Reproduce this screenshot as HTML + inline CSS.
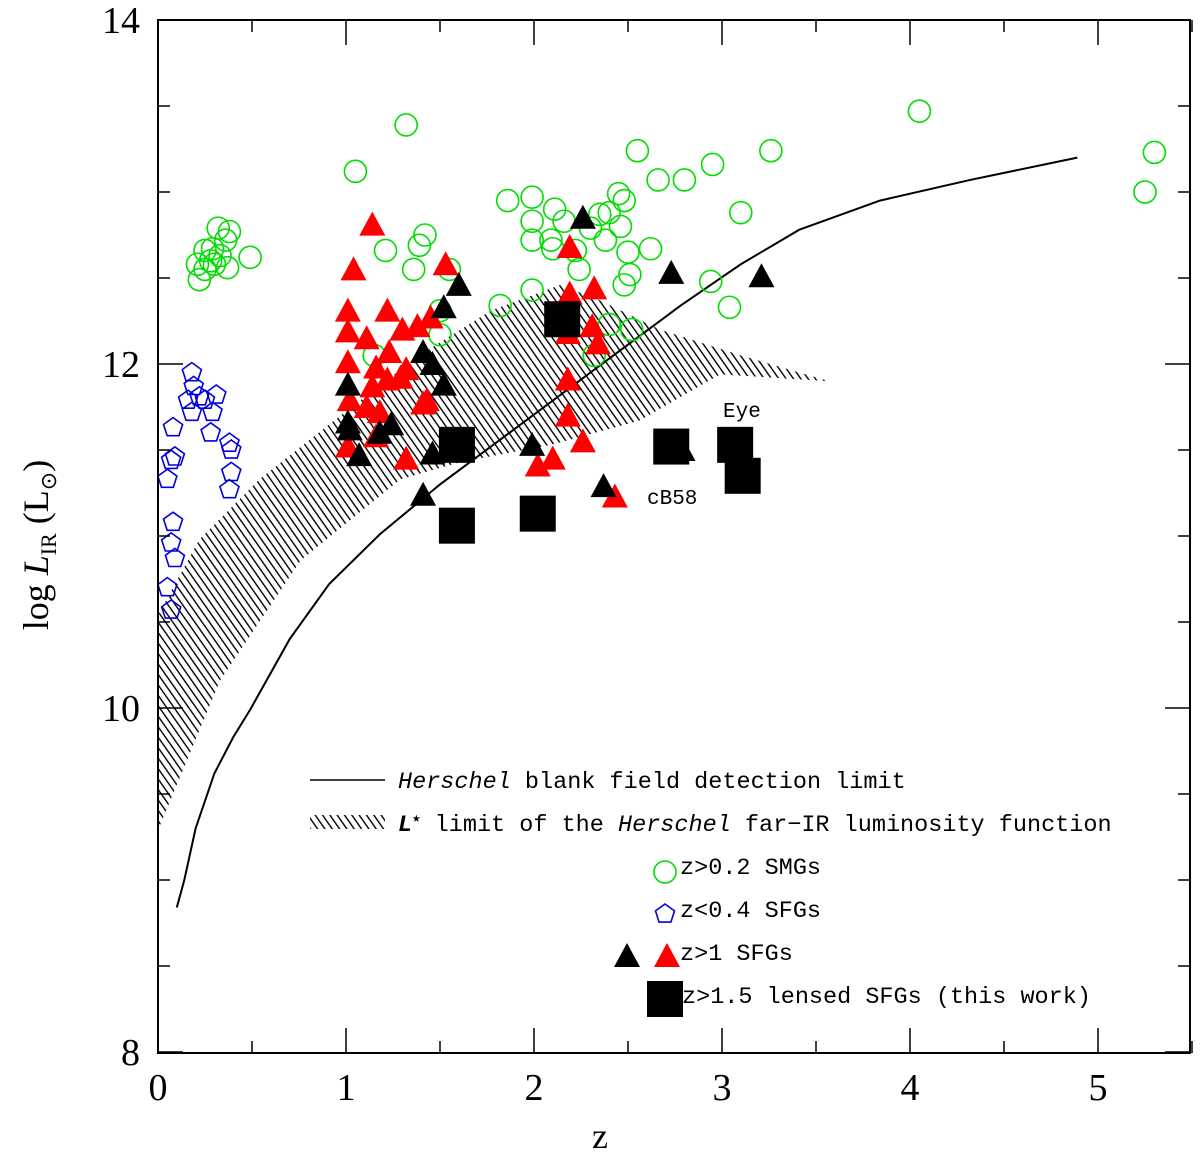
<!DOCTYPE html>
<html><head><meta charset="utf-8"><style>
body{margin:0;background:#fff}
svg{display:block;font-family:"Liberation Serif",serif}
.mono{font-family:"Liberation Mono",monospace}
</style></head><body>
<svg id="chart" width="1200" height="1158" viewBox="0 0 1200 1158" xmlns="http://www.w3.org/2000/svg">
<defs>
<pattern id="hatch" patternUnits="userSpaceOnUse" width="6" height="6" patternTransform="rotate(-35)">
<line x1="0" y1="0" x2="0" y2="6" stroke="#000" stroke-width="2.8"/>
</pattern>
<clipPath id="plotclip"><rect x="158" y="20" width="1032" height="1033"/></clipPath>
</defs>
<g id="marks" clip-path="url(#plotclip)"></g>
<g id="axes"></g>
<g id="legend"></g>
</svg>
<script>
const zTicks=[0,1,2,3,4,5];
const lTicks=[8,10,12,14];
const smgZ=[.22,.25,.28,.30,.33,.36,.38,.29,.25,.21,.49,.32,.37,1.05,1.32,1.21,1.36,1.42,1.39,1.55,1.50,1.50,1.15,1.82,1.86,1.99,1.99,1.99,1.99,2.09,2.11,2.10,2.16,2.22,2.24,2.30,2.35,2.38,2.40,2.45,2.46,2.48,2.51,2.48,2.50,2.52,2.62,2.55,2.66,2.80,2.95,3.10,3.26,2.94,3.04,4.05,5.25,5.30,2.32,2.40];
const smgL=[12.49,12.55,12.60,12.58,12.63,12.72,12.77,12.67,12.66,12.58,12.62,12.79,12.56,13.12,13.39,12.66,12.55,12.75,12.69,12.55,12.31,12.17,12.05,12.34,12.95,12.97,12.83,12.72,12.43,12.72,12.90,12.67,12.83,12.66,12.55,12.79,12.87,12.72,12.88,12.99,12.80,12.95,12.52,12.46,12.65,12.20,12.67,13.24,13.07,13.07,13.16,12.88,13.24,12.48,12.33,13.47,13.00,13.23,12.05,12.23];
const sfgZ=[.18,.19,.22,.31,.16,.25,.18,.29,.08,.28,.38,.39,.09,.07,.39,.05,.38,.08,.07,.09,.05,.07];
const sfgL=[11.95,11.87,11.81,11.82,11.79,11.79,11.72,11.72,11.63,11.60,11.54,11.50,11.46,11.44,11.37,11.33,11.27,11.08,10.96,10.87,10.70,10.57];
const redZ=[1.14,1.04,1.53,1.01,1.22,1.01,1.11,1.45,1.38,1.30,1.01,1.23,1.16,1.32,1.02,1.14,1.22,1.29,1.43,1.11,1.18,1.01,1.16,1.32,1.41,2.19,2.32,2.18,2.31,2.34,2.18,2.18,2.26,2.10,2.02,2.43,2.19];
const redL=[12.81,12.55,12.58,12.31,12.31,12.19,12.15,12.27,12.22,12.20,12.01,12.07,11.98,11.97,11.79,11.87,11.91,11.92,11.79,11.75,11.72,11.52,11.58,11.45,11.77,12.41,12.44,12.18,12.22,12.12,11.91,11.70,11.55,11.45,11.41,11.23,12.68];
const blkZ=[2.26,2.73,3.21,1.60,1.52,1.01,1.41,1.46,1.52,1.01,1.02,1.07,1.18,1.24,1.46,1.99,1.41,2.37,2.79];
const blkL=[12.85,12.53,12.51,12.46,12.33,11.88,12.07,12.00,11.88,11.66,11.62,11.47,11.60,11.65,11.48,11.53,11.24,11.29,11.50];
const lensZ=[2.15,1.59,1.59,2.02,2.73,3.07,3.11];
const lensL=[12.26,11.53,11.06,11.13,11.52,11.53,11.35];
const limZ=[.10,.14,.20,.30,.40,.49,.70,.91,1.18,1.50,1.82,2.14,2.46,2.78,3.10,3.41,3.84,4.32,4.89];
const limL=[8.84,9.0,9.3,9.62,9.83,9.99,10.40,10.72,11.01,11.30,11.56,11.82,12.08,12.34,12.58,12.78,12.95,13.07,13.20];
const bandUpZ=[0,.22,.54,.97,1.39,1.77,2.14,2.35,2.67,3.1,3.57];
const bandUpL=[10.54,10.98,11.33,11.70,12.05,12.31,12.46,12.37,12.2,12.05,11.9];
const bandLoZ=[0,.33,.76,1.29,1.61,2.09,2.56,2.99,3.57];
const bandLoL=[9.29,10.16,10.86,11.33,11.43,11.53,11.67,11.94,11.9];

const NS='http://www.w3.org/2000/svg';
const X=z=>158+z*188;
const Y=l=>20+(14-l)*172;
function mk(tag,attrs,parent){const e=document.createElementNS(NS,tag);for(const k in attrs)e.setAttribute(k,attrs[k]);parent.appendChild(e);return e;}
const marks=document.getElementById('marks'),axes=document.getElementById('axes'),leg=document.getElementById('legend');

let d='M'+bandUpZ.map((z,i)=>X(z)+','+Y(bandUpL[i])).join(' L');
for(let i=bandLoZ.length-1;i>=0;i--)d+=' L'+X(bandLoZ[i])+','+Y(bandLoL[i]);
d+=' Z';
const band=mk('path',{d:d,fill:'url(#hatch)',stroke:'none'},marks);


const lim=mk('polyline',{points:limZ.map((z,i)=>X(z)+','+Y(limL[i])).join(' '),fill:'none',stroke:'#000','stroke-width':2},marks);



function circ(cx,cy,p){return mk('circle',{cx:cx,cy:cy,r:11,fill:'none',stroke:'#0d0','stroke-width':1.6},p);}
function pent(cx,cy,p){let pts=[];for(let k=0;k<5;k++){const a=-Math.PI/2+k*2*Math.PI/5;pts.push((cx+10*Math.cos(a)).toFixed(1)+','+(cy+10*Math.sin(a)).toFixed(1));}return mk('polygon',{points:pts.join(' '),fill:'none',stroke:'#00d','stroke-width':1.6},p);}
function tri(cx,cy,c,p){return mk('polygon',{points:`${cx-13},${cy+11} ${cx+13},${cy+11} ${cx},${cy-13}`,fill:c},p);}
function sq(cx,cy,p){return mk('rect',{x:cx-18,y:cy-18,width:36,height:36,fill:'#000'},p);}

smgZ.forEach((z,i)=>{const e=circ(X(z),Y(smgL[i]),marks);

});
sfgZ.forEach((z,i)=>{const e=pent(X(z),Y(sfgL[i]),marks);

});
redZ.forEach((z,i)=>{const e=tri(X(z),Y(redL[i]),'#f00',marks);

});
blkZ.forEach((z,i)=>{const e=tri(X(z),Y(blkL[i]),'#000',marks);

});
lensZ.forEach((z,i)=>{const e=sq(X(z),Y(lensL[i]),marks);

});

const t1=mk('text',{x:723,y:417,'font-size':21,class:'mono'},marks);t1.textContent='Eye';


const t2=mk('text',{x:647,y:504,'font-size':21,class:'mono'},marks);t2.textContent='cB58';



const fr=mk('rect',{x:158,y:20,width:1032,height:1033,fill:'none',stroke:'#000','stroke-width':2},axes);


for(let z=0;z<=5.5;z+=0.5){const maj=Math.abs(z-Math.round(z))<1e-6,len=maj?25:12;
mk('line',{x1:X(z),x2:X(z),y1:1053,y2:1053-len,stroke:'#000','stroke-width':1.5},axes);
mk('line',{x1:X(z),x2:X(z),y1:20,y2:20+len,stroke:'#000','stroke-width':1.5},axes);}
for(let l=8;l<=14;l+=0.5){const maj=Math.abs(l-Math.round(l))<1e-6&&Math.round(l)%2===0,len=maj?25:12;
mk('line',{x1:158,x2:158+len,y1:Y(l),y2:Y(l),stroke:'#000','stroke-width':1.5},axes);
mk('line',{x1:1190,x2:1190-len,y1:Y(l),y2:Y(l),stroke:'#000','stroke-width':1.5},axes);}
zTicks.forEach(z=>{const t=mk('text',{x:X(z),y:1100,'font-size':38,'text-anchor':'middle'},axes);t.textContent=z;

});
lTicks.forEach(l=>{const t=mk('text',{x:140,y:Y(l)+13,'font-size':38,'text-anchor':'end'},axes);t.textContent=l;

});
const xl=mk('text',{x:600,y:1148,'font-size':36,'text-anchor':'middle'},axes);xl.textContent='z';


const yl=mk('text',{transform:'translate(48,545) rotate(-90)','font-size':36,'text-anchor':'middle'},axes);
yl.innerHTML='log <tspan font-style="italic">L</tspan><tspan font-size="22" dy="8">IR</tspan><tspan dy="-8">  (L</tspan><tspan font-size="22" dy="8">⊙</tspan><tspan dy="-8">)</tspan>';



mk('line',{x1:310,x2:385,y1:780,y2:780,stroke:'#000','stroke-width':1.5},leg);
const lt1=mk('text',{x:398,y:788,'font-size':23.5,class:'mono'},leg);lt1.innerHTML='<tspan font-style="italic">Herschel</tspan> blank field detection limit';


mk('rect',{x:310,y:815,width:75,height:14,fill:'url(#hatch)'},leg);
const lt2=mk('text',{x:398,y:831,'font-size':23.5,class:'mono'},leg);lt2.innerHTML='<tspan font-style="italic" font-weight="bold">L</tspan><tspan font-size="14" dy="-9">★</tspan><tspan dy="9"> limit of the </tspan><tspan font-style="italic">Herschel</tspan> far−IR luminosity function';


circ(665,872,leg);
const lt3=mk('text',{x:680,y:874,'font-size':23.5,class:'mono'},leg);lt3.textContent='z>0.2 SMGs';


pent(665,914,leg);
const lt4=mk('text',{x:680,y:917,'font-size':23.5,class:'mono'},leg);lt4.textContent='z<0.4 SFGs';


tri(627,956,'#000',leg);tri(667,956,'#f00',leg);
const lt5=mk('text',{x:680,y:960,'font-size':23.5,class:'mono'},leg);lt5.textContent='z>1 SFGs';


sq(665,999,leg);
const lt6=mk('text',{x:682,y:1003,'font-size':23.5,class:'mono'},leg);lt6.textContent='z>1.5 lensed SFGs (this work)';


</script>
</body></html>
